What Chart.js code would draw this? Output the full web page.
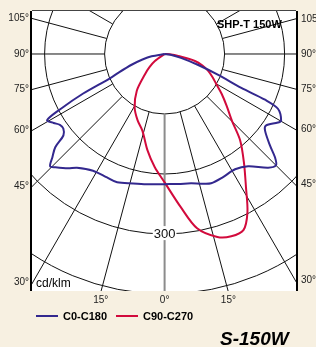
<!DOCTYPE html>
<html>
<head>
<meta charset="utf-8">
<script src="https://cdn.jsdelivr.net/npm/chart.js@4.4.1/dist/chart.umd.min.js"></script>
<style>
  html, body { margin: 0; padding: 0; background: #f7f0e1; }
  canvas { display: block; }
</style>
</head>
<body>
<canvas id="polarChart" width="316" height="347"></canvas>
<script>
// angle from nadir in degrees (negative = C180 / C270 side), intensity in cd/klm
const c0Angles = [-90, -80, -76, -72, -68, -66, -64, -62, -60.5, -58, -55.8, -53.5, -51, -49.4, -47.2, -45.4, -43.8, -40, -37.5, -31.4, -24.9, -20.2, -13.6, -7, 0, 6, 11.5, 16, 19.7, 25.3, 31.3, 36.5, 42.2, 44.9, 46.7, 48.9, 52.5, 54.6, 58.7, 60.1, 64.1, 65.4, 66, 68.6, 71.8, 76.4, 82, 90];
const c0Values = [0, 22, 38, 57, 82, 99, 151, 197, 225, 218, 211, 210, 217, 240, 255, 268, 263, 250, 240, 229, 228, 229, 223, 220, 218, 219, 221, 226, 230, 228, 226, 234, 257, 263, 253, 233, 211, 207, 221, 224, 210, 184, 140, 96, 59, 28, 10, 0];
const c90Angles = [-60, -54, -49, -44, -37, -29, -22, -16, -10, -5, 0, 6, 10.5, 16, 20, 24, 27.5, 31.3, 36, 41, 45, 50, 55, 60, 64, 68.7, 73, 77, 81.6, 86, 90];
const c90Values = [0, 20, 33, 47, 77, 103, 120, 134, 164, 190, 215, 258, 297, 319, 325, 323, 299, 261, 225, 192, 159, 135, 116, 99, 89, 78, 66, 52, 23, 8, 0];

const ringValues = [100, 200, 300, 400];
const labelRing = 300;
const spokeAngles = [0, 15, 30, 45, 60, 75, 90, 105, 120, 135, 150, 165, 180, -15, -30, -45, -60, -75, -90, -105, -120, -135, -150, -165];
const sideTicks = [105, 90, 75, 60, 45, 30];
const bottomTicks = [-15, 0, 15];

const xMin = -221, xMax = 219, yMin = -397, yMax = 72;
const FONT = '"Liberation Sans", Arial, sans-serif';

function toXY(angles, values) {
    return angles.map((a, i) => {
        const t = a * Math.PI / 180;
        return { x: values[i] * Math.sin(t), y: -values[i] * Math.cos(t) };
    });
}

const polarGrid = {
    id: "polarGrid",
    beforeDraw(chart) {
        const { ctx, chartArea: a } = chart;
        ctx.save();
        ctx.fillStyle = "#ffffff";
        ctx.fillRect(a.left, a.top, a.right - a.left, a.bottom - a.top);
        ctx.restore();
    },
    beforeDatasetsDraw(chart) {
        const { ctx, chartArea: a, scales: { x, y } } = chart;
        const cx = x.getPixelForValue(0), cy = y.getPixelForValue(0);
        const rad = (v) => x.getPixelForValue(v) - cx;
        ctx.save();
        ctx.beginPath();
        ctx.rect(a.left, a.top, a.right - a.left, a.bottom - a.top);
        ctx.clip();
        ctx.strokeStyle = "#111";
        ctx.lineWidth = 1;
        ringValues.forEach((r) => { ctx.beginPath(); ctx.arc(cx, cy, rad(r), 0, Math.PI * 2); ctx.stroke(); });
        const r0 = rad(ringValues[0]), r1 = rad(1000);
        spokeAngles.forEach((deg) => {
            const t = deg * Math.PI / 180;
            ctx.beginPath();
            ctx.moveTo(cx + r0 * Math.sin(t), cy + r0 * Math.cos(t));
            ctx.lineTo(cx + r1 * Math.sin(t), cy + r1 * Math.cos(t));
            ctx.strokeStyle = deg === 0 ? "#8c8c8c" : "#111";
            ctx.lineWidth = deg === 0 ? 2 : 1;
            ctx.stroke();
        });
        const ly = y.getPixelForValue(-labelRing);
        ctx.font = `13px ${FONT}`;
        const w = ctx.measureText(String(labelRing)).width;
        ctx.fillStyle = "#fff";
        ctx.fillRect(cx - w / 2 - 1, ly - 7, w + 2, 14);
        ctx.fillStyle = "#111";
        ctx.textAlign = "center";
        ctx.textBaseline = "middle";
        ctx.fillText(String(labelRing), cx, ly + 1);
        ctx.restore();
    },
    afterDraw(chart) {
        const { ctx, chartArea: a } = chart;
        ctx.save();
        ctx.strokeStyle = "#000";
        ctx.lineWidth = 2;
        ctx.beginPath();
        ctx.moveTo(a.left - 1, a.top); ctx.lineTo(a.left - 1, a.bottom);
        ctx.moveTo(a.right + 1, a.top); ctx.lineTo(a.right + 1, a.bottom);
        ctx.stroke();
        ctx.strokeStyle = "#444";
        ctx.lineWidth = 1;
        ctx.beginPath();
        ctx.moveTo(a.left, a.top - 0.5); ctx.lineTo(a.right, a.top - 0.5);
        ctx.stroke();

        ctx.fillStyle = "#000";
        ctx.textBaseline = "alphabetic";
        ctx.font = `bold 11px ${FONT}`;
        ctx.fillText("SHP-T 150W", 217, 28);
        ctx.font = `12px ${FONT}`;
        ctx.fillText("cd/klm", 36, 287);
        ctx.font = `italic bold 19px ${FONT}`;
        ctx.fillText("S-150W", 220, 345);

        // legend
        let lx = 36;
        const legendY = 316;
        ctx.font = `bold 11px ${FONT}`;
        ctx.textBaseline = "middle";
        chart.data.datasets.forEach((ds) => {
            ctx.strokeStyle = ds.borderColor;
            ctx.lineWidth = 2;
            ctx.beginPath();
            ctx.moveTo(lx, legendY); ctx.lineTo(lx + 22, legendY);
            ctx.stroke();
            ctx.fillStyle = "#000";
            ctx.fillText(ds.label, lx + 27, legendY + 1);
            lx += 27 + ctx.measureText(ds.label).width + 9;
        });
        ctx.restore();
    }
};

const tickFont = { family: FONT, size: 10 };
const sideAxis = (position, edge, width, padding) => ({
    type: "linear", position, min: yMin, max: yMax,
    grid: { display: false, drawTicks: false }, border: { display: false },
    afterBuildTicks: (scale) => { scale.ticks = sideTicks.map((deg) => ({ value: -Math.abs(edge) / Math.tan(deg * Math.PI / 180) })); },
    afterFit: (scale) => { scale.width = width; },
    ticks: { autoSkip: false, font: tickFont, color: "#222", padding, callback: (value, index) => `${sideTicks[index]}°` }
});

new Chart(document.getElementById("polarChart"), {
    type: "scatter",
    data: {
        datasets: [
            { label: "C0-C180", data: toXY(c0Angles, c0Values), borderColor: "#33288e", showLine: true, borderWidth: 2, pointRadius: 0, tension: 0.3 },
            { label: "C90-C270", data: toXY(c90Angles, c90Values), borderColor: "#d20a3c", showLine: true, borderWidth: 2, pointRadius: 0, tension: 0.3 }
        ]
    },
    options: {
        responsive: false,
        animation: false,
        devicePixelRatio: 1,
        layout: { padding: { top: 10, left: 0, right: 0, bottom: 0 } },
        plugins: { legend: { display: false }, tooltip: { enabled: false } },
        scales: {
            x: {
                type: "linear", min: xMin, max: xMax,
                grid: { display: false, drawTicks: false }, border: { display: false },
                afterBuildTicks: (scale) => { scale.ticks = bottomTicks.map((deg) => ({ value: -yMin * Math.tan(deg * Math.PI / 180) })); },
                afterFit: (scale) => { scale.height = 56; },
                ticks: { autoSkip: false, maxRotation: 0, font: tickFont, color: "#222", padding: 3, callback: (value, index) => `${Math.abs(bottomTicks[index])}°` }
            },
            y: sideAxis("left", xMin, 32, 3),
            y2: sideAxis("right", xMax, 20, 5)
        }
    },
    plugins: [polarGrid]
});
</script>
</body>
</html>
